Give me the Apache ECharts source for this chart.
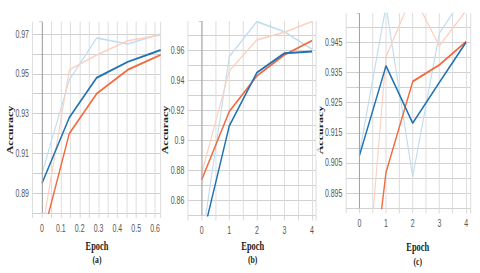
<!DOCTYPE html>
<html>
<head>
<meta charset="utf-8">
<script src="https://cdn.jsdelivr.net/npm/echarts@6/dist/echarts.min.js"></script>
<style>
  html, body { margin: 0; padding: 0; background: #fff; overflow: hidden; }
  #wrap { width: 480px; height: 273px; overflow: hidden; }
  #main { height: 273px; transform-origin: 0 0; }
</style>
</head>
<body>
<div id="wrap"><div id="main"></div></div>
<script>
// ---------- data ----------
const panelLabels = ['(a)', '(b)', '(c)'];
const xTitle = 'Epoch';
const yTitle = 'Accuracy';

const epochA = [0, 0.145, 0.29, 0.455, 0.63];
const darkBlueA   = [0.895, 0.928, 0.948, 0.956, 0.962];
const darkOrangeA = [0.867, 0.920, 0.940, 0.952, 0.9595];
const lightBlueA  = [0.900, 0.947, 0.968, 0.965, 0.970];
const lightOrangeA= [0.871, 0.952, 0.9595, 0.9666, 0.9695];

const epochB = [0, 1, 2, 3, 4];
const darkBlueB   = [0.833, 0.9097, 0.9452, 0.9581, 0.9592];
const darkOrangeB = [0.8738, 0.9193, 0.943, 0.957, 0.9665];
const lightBlueB  = [0.832, 0.9559, 0.9792, 0.9725, 0.9608];
const lightOrangeB= [0.878, 0.9464, 0.967, 0.9721, 0.9792];

const epochC = [0, 1, 2, 3, 4];
const darkBlueC   = [0.9074, 0.9372, 0.9182, 0.9317, 0.945];
const darkOrangeC = [0.828, 0.9019, 0.932, 0.9375, 0.9452];
const lightBlueC  = [0.908, 0.957, 0.9005, 0.948, 0.9614];
const lightOrangeC= [0.834, 0.9402, 0.961, 0.9438, 0.9555];

const xTicksA = ['0', '0.1', '0.2', '0.3', '0.4', '0.5', '0.6'];
const yTicksA = ['0.89', '0.91', '0.93', '0.95', '0.97'];
const xTicksB = ['0', '1', '2', '3', '4'];
const yTicksB = ['0.86', '0.88', '0.9', '0.92', '0.94', '0.96'];
const xTicksC = ['0', '1', '2', '3', '4'];
const yTicksC = ['0.895', '0.905', '0.915', '0.925', '0.935', '0.945'];

// ---------- layout / style ----------
const S = 0.7;                 // horizontal squeeze of the original figure
const W = 480 / S;
const px = v => v / S;
document.getElementById('main').style.width = W + 'px';
document.getElementById('main').style.transform = 'scaleX(' + S + ')';

const C_DB = '#1f72b3', C_DO = '#f26b3f', C_LB = '#bfddef', C_LO = '#fccfbf';
const tickFont = "'Liberation Sans Narrow', 'Arial Narrow', 'Liberation Sans', sans-serif";
const serif = "'Liberation Serif', 'Times New Roman', serif";

function fmt(list) {
  return v => { const s = String(parseFloat(Number(v).toFixed(3))); return list.includes(s) ? s : ''; };
}
function hColors(n) { // horizontal split lines, last (top boundary) hidden
  const a = []; for (let i = 0; i < n; i++) a.push('#c9c9c9'); a.push('rgba(0,0,0,0)'); return a;
}

const panels = [
  {grid: {left: 32.6, right: 160.5, top: 21.7, bottom: 213},
   x: {min: -0.05, max: 0.629, interval: 0.05, ticks: xTicksA},
   y: {min: 0.88, max: 0.9762, interval: 0.01, ticks: yTicksA, n: 10},
   ep: epochA, s: [lightBlueA, lightOrangeA, darkOrangeA, darkBlueA],
   title: [97, 245.5, 260], acc: 10.5},
  {grid: {left: 187.9, right: 316, top: 21, bottom: 215.5},
   x: {min: -0.5, max: 4.144, interval: 0.5, ticks: xTicksB},
   y: {min: 0.85, max: 0.9796, interval: 0.01, ticks: yTicksB, n: 13},
   ep: epochB, s: [lightBlueB, lightOrangeB, darkOrangeB, darkBlueB],
   title: [252.7, 245.5, 260], acc: 165},
  {grid: {left: 346, right: 470.6, top: 13.3, bottom: 208.3},
   x: {min: -0.5, max: 4.17, interval: 0.5, ticks: xTicksC},
   y: {min: 0.89, max: 0.9546, interval: 0.005, ticks: yTicksC, n: 13},
   ep: epochC, s: [lightBlueC, lightOrangeC, darkOrangeC, darkBlueC],
   title: [417.7, 246.7, 261.5], acc: 320}
];

const grids = [], xAxes = [], yAxes = [], series = [], graphics = [];
const colors = [C_LB, C_LO, C_DO, C_DB];
const widths = [1.6, 1.6, 2, 2];
panels.forEach((p, i) => {
  grids.push({left: px(p.grid.left), width: px(p.grid.right - p.grid.left),
              top: p.grid.top, height: p.grid.bottom - p.grid.top,
              containLabel: false, outerBoundsMode: 'none'});
  xAxes.push({type: 'value', gridIndex: i, min: p.x.min, max: p.x.max, interval: p.x.interval,
    axisLine: {show: false},
    axisTick: {show: true, length: 5, lineStyle: {color: '#d8d8d8', width: 1.4}},
    axisLabel: {formatter: fmt(p.x.ticks), margin: 10.5, color: '#555', fontSize: 10, fontFamily: tickFont},
    splitLine: {show: true, lineStyle: {color: '#dcdcdc', width: 1.4}}});
  yAxes.push({type: 'value', gridIndex: i, min: p.y.min, max: p.y.max, interval: p.y.interval,
    axisLine: {show: false},
    axisTick: {show: true, length: px(3), lineStyle: {color: '#c9c9c9'}},
    axisLabel: {formatter: fmt(p.y.ticks), margin: px(3.6), color: '#555', fontSize: 10, fontFamily: tickFont},
    splitLine: {show: true, lineStyle: {color: hColors(p.y.n), width: 1}}});
  p.s.forEach((vals, k) => {
    const sr = {type: 'line', xAxisIndex: i, yAxisIndex: i, symbol: 'none', clip: true,
      data: p.ep.map((e, j) => [e, vals[j]]),
      lineStyle: {color: colors[k], width: widths[k]}, itemStyle: {color: colors[k]},
      animation: false, silent: true};
    if (k === 0) {
      sr.markLine = {silent: true, symbol: 'none', animation: false, label: {show: false},
        lineStyle: {color: '#a0a0a0', width: 1.4, type: 'solid'}, data: [{xAxis: 0}]};
    }
    series.push(sr);
  });
  graphics.push({type: 'text', x: px(p.title[0]), y: p.title[1],
    style: {text: xTitle, font: 'bold 12px ' + serif, fill: '#222', align: 'center', verticalAlign: 'middle'}});
  graphics.push({type: 'text', x: px(p.title[0]), y: p.title[2],
    style: {text: panelLabels[i], font: 'bold 11px ' + serif, fill: '#222', align: 'center', verticalAlign: 'middle'}});
  graphics.push({type: 'text', x: px(p.acc), y: 130, rotation: Math.PI / 2,
    style: {text: yTitle, font: 'bold 12px ' + serif, fill: '#222', align: 'center', verticalAlign: 'middle'}});
});
graphics.push({type: 'rect', shape: {x: px(316.3), y: 100, width: px(3.6), height: 60},
  style: {fill: 'rgba(255,255,255,0.75)'}, z: 100});

const chart = echarts.init(document.getElementById('main'), null, {renderer: 'svg'});
chart.setOption({
  animation: false,
  backgroundColor: '#fff',
  grid: grids, xAxis: xAxes, yAxis: yAxes, series: series, graphic: graphics
});
</script>
</body>
</html>
